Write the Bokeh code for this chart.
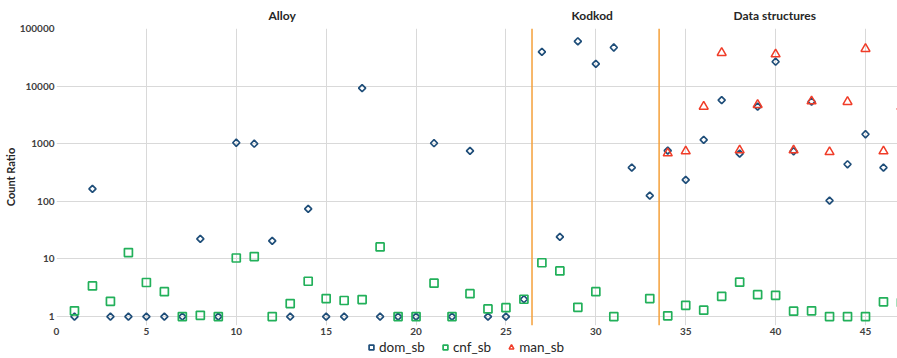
import math
from bokeh.plotting import figure
from bokeh.layouts import column
from bokeh.models import (Range1d, FixedTicker, NumeralTickFormatter, Legend, LegendItem, LinearAxis)
from bokeh.embed import file_html
from bokeh.resources import INLINE

NAN = float("nan")

problem_ids = list(range(1, 48))

dom_sb = [1, 165, 1, 1, 1, 1, 1, 22.3, 1, 1040,
          1000, 20.6, 1, 74, 1, 1, 9200, 1, 1, 1,
          1020, 1, 753, 1, 1, 2, 39400, 24.2, 60000, 24400,
          46800, 386, 126, 760, 236, 1170, 5690, 675, 4420, 26500,
          740, 5400, 103, 440, 1460, 386, 2000]

cnf_sb = [1.26, 3.4, 1.84, 12.9, 3.9, 2.7, 1, 1.05, 1, 10.4,
          11, 1, 1.68, 4.1, 2.05, 1.9, 1.97, 16.2, 1, 1,
          3.8, 1, 2.5, 1.36, 1.43, 2, 8.6, 6.2, 1.45, 2.7,
          1, NAN, 2.05, 1.03, 1.57, 1.29, 2.25, 3.95, 2.4, 2.34,
          1.24, 1.26, 1, 1, 1, 1.8, 1.75]

man_sb = [NAN] * 33 + [684, 740, 4420, 37800, 771, 4730, 35800,
                       770, 5470, 720, 5330, 44400, 740, 4400]

series_names = ["dom_sb", "cnf_sb", "man_sb"]

section_names = ["Alloy", "Kodkod", "Data structures"]
section_centers = [12.55, 29.8, 39.95]
section_bounds = [26.45, 33.52]

x_ticks = [0, 5, 10, 15, 20, 25, 30, 35, 40, 45]
y_ticks = [1, 10, 100, 1000, 10000, 100000]

FONT = "Lato"
GRID = "#D9D9D9"
TXT = "#404040"
C_DOM, C_CNF, C_MAN = "#1F4E79", "#22B05A", "#F03C28"

p = figure(width=897, height=338, output_backend="svg", toolbar_location=None,
           y_axis_type="log",
           x_range=Range1d(0, 46.78), y_range=Range1d(0.7, 100000),
           min_border_left=55, min_border_right=0, min_border_top=28, min_border_bottom=13)
p.outline_line_color = None
p.background_fill_color = "white"

p.xaxis.ticker = FixedTicker(ticks=x_ticks)
p.yaxis.ticker = FixedTicker(ticks=y_ticks)
p.yaxis.formatter = NumeralTickFormatter(format="0")
for ax in (p.xaxis, p.yaxis):
    ax.axis_line_color = None
    ax.major_tick_line_color = None
    ax.minor_tick_line_color = None
    ax.major_tick_out = 0
    ax.major_tick_in = 0
    ax.minor_tick_out = 0
    ax.minor_tick_in = 0
    ax.major_label_text_font = FONT
    ax.major_label_text_font_style = "bold"
    ax.major_label_text_font_size = "10px"
    ax.major_label_text_color = TXT
p.xaxis.major_label_standoff = 2
p.yaxis.major_label_standoff = 2
p.yaxis.axis_label = "Count Ratio"
p.yaxis.axis_label_text_font = FONT
p.yaxis.axis_label_text_font_style = "bold"
p.yaxis.axis_label_text_font_size = "11px"
p.yaxis.axis_label_text_color = "#262626"
p.yaxis.axis_label_standoff = 0

# section names as a top axis
top_axis = LinearAxis(ticker=FixedTicker(ticks=section_centers),
                      major_label_overrides={c: n for c, n in zip(section_centers, section_names)})
top_axis.axis_line_color = None
top_axis.major_tick_line_color = None
top_axis.minor_tick_line_color = None
top_axis.major_tick_out = 0
top_axis.major_tick_in = 0
top_axis.major_label_standoff = 6
top_axis.major_label_text_font = FONT
top_axis.major_label_text_font_style = "bold"
top_axis.major_label_text_font_size = "12px"
top_axis.major_label_text_color = "#262626"
p.add_layout(top_axis, "above")

p.xgrid.ticker = FixedTicker(ticks=x_ticks)
p.ygrid.ticker = FixedTicker(ticks=y_ticks)
p.xgrid.grid_line_color = GRID
p.ygrid.grid_line_color = GRID
p.xgrid.grid_line_width = 1
p.ygrid.grid_line_width = 1

# section dividers
p.segment(x0=section_bounds, x1=section_bounds, y0=[0.7] * len(section_bounds),
          y1=[100000] * len(section_bounds), line_color="#F5A03A", line_width=1.5)

p.scatter(problem_ids, dom_sb, marker="square", angle=math.pi / 4, size=5,
          line_color=C_DOM, fill_alpha=0, line_width=1.7)
p.scatter(problem_ids, cnf_sb, marker="square", size=8, line_color=C_CNF,
          fill_alpha=0, line_width=1.7)
p.scatter(problem_ids, man_sb, marker="triangle", size=9, line_color=C_MAN,
          fill_alpha=0, line_width=1.5)

# legend strip (glyph proxies placed outside the visible range)
lg = figure(width=897, height=20, output_backend="svg", toolbar_location=None,
            x_range=Range1d(0, 1), y_range=Range1d(0, 1),
            x_axis_location=None, y_axis_location=None,
            min_border_left=0, min_border_right=0, min_border_top=0, min_border_bottom=0)
lg.grid.visible = False
lg.outline_line_color = None
l_dom = lg.scatter([-5], [-5], marker="square", angle=math.pi / 4, size=5,
                   line_color=C_DOM, fill_alpha=0, line_width=1.7)
l_cnf = lg.scatter([-5], [-5], marker="square", size=8, line_color=C_CNF,
                   fill_alpha=0, line_width=1.7)
l_man = lg.scatter([-5], [-5], marker="triangle", size=9, line_color=C_MAN,
                   fill_alpha=0, line_width=1.5)
legend = Legend(items=[LegendItem(label=series_names[0], renderers=[l_dom]),
                       LegendItem(label=series_names[1], renderers=[l_cnf]),
                       LegendItem(label=series_names[2], renderers=[l_man])],
                orientation="horizontal", location=(307, 1))
legend.border_line_alpha = 0
legend.background_fill_alpha = 0
legend.label_text_font = FONT
legend.label_text_font_size = "13.5px"
legend.label_text_color = "#262626"
legend.glyph_width = 12
legend.glyph_height = 14
legend.label_height = 14
legend.label_standoff = 2
legend.spacing = 14
legend.padding = 2
legend.margin = 0
lg.add_layout(legend, "center")

layout = column(p, lg, spacing=0)
open("out.html", "w").write(file_html(layout, INLINE))
